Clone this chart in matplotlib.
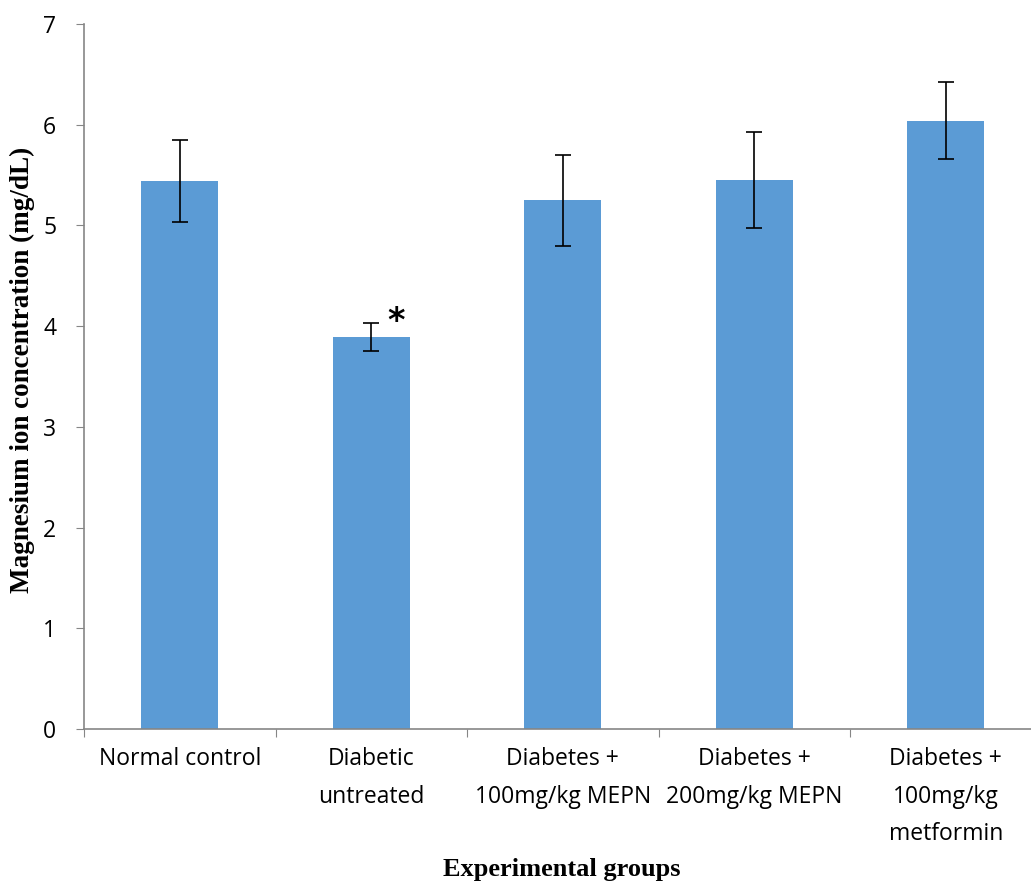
import numpy as np
import matplotlib.pyplot as plt

# Serum magnesium per group, mean and error
groups = ['Normal control', 'Diabetic\nuntreated', 'Diabetes +\n100mg/kg MEPN',
          'Diabetes +\n200mg/kg MEPN', 'Diabetes +\n100mg/kg\nmetformin']
mg_mean = [5.44, 3.89, 5.25, 5.45, 6.04]
mg_err = [0.41, 0.14, 0.45, 0.48, 0.38]
yticks = [0, 1, 2, 3, 4, 5, 6, 7]

bar_col = '#5B9BD5'
axis_col = '#868686'
label_font = ['Open Sans', 'DejaVu Sans']

fig = plt.figure(figsize=(10.31, 8.81), dpi=100)
ax = fig.add_axes([0.0815, 0.1725, 0.9287, 0.8003])

x = np.arange(len(groups))
ax.bar(x, mg_mean, width=0.4, color=bar_col, zorder=2)
ax.errorbar(x, mg_mean, yerr=mg_err, fmt='none', ecolor='black',
            elinewidth=1.2, capsize=6, capthick=1.2, zorder=3)

# significance mark on the untreated group
ax.text(x[1] + 0.13, mg_mean[1] + mg_err[1] + 0.02, '*', fontsize=24,
        fontweight='bold', ha='center', va='center')

ax.set_xlim(-0.5, len(groups) - 0.5)
ax.set_ylim(0, 7)
ax.set_yticks(yticks)
ax.set_yticklabels([str(v) for v in yticks], family=label_font, fontsize=16.5)

# category ticks sit between bars, labels sit under bar centres
ax.set_xticks(np.arange(len(groups) + 1) - 0.5)
ax.set_xticklabels([])
ax.set_xticks(x, minor=True)
ax.set_xticklabels(groups, minor=True, family=label_font, fontsize=16.5,
                   linespacing=1.75, va='top')
ax.tick_params(axis='x', which='minor', length=0, pad=13)
ax.tick_params(axis='x', which='major', length=6, color=axis_col, direction='out')
ax.tick_params(axis='y', length=6, color=axis_col, direction='out', pad=14)

for side in ['top', 'right']:
    ax.spines[side].set_visible(False)
for side in ['left', 'bottom']:
    ax.spines[side].set_color(axis_col)
    ax.spines[side].set_linewidth(1.2)

fig.text(0.022, 0.58, 'Magnesium ion concentration (mg/dL)', rotation=90,
         family='Liberation Serif', fontweight='bold', fontsize=19.5,
         ha='center', va='center')
fig.text(0.545, 0.013, 'Experimental groups', family='Liberation Serif',
         fontweight='bold', fontsize=19, ha='center', va='center')

fig.savefig('out.png', dpi=100)
